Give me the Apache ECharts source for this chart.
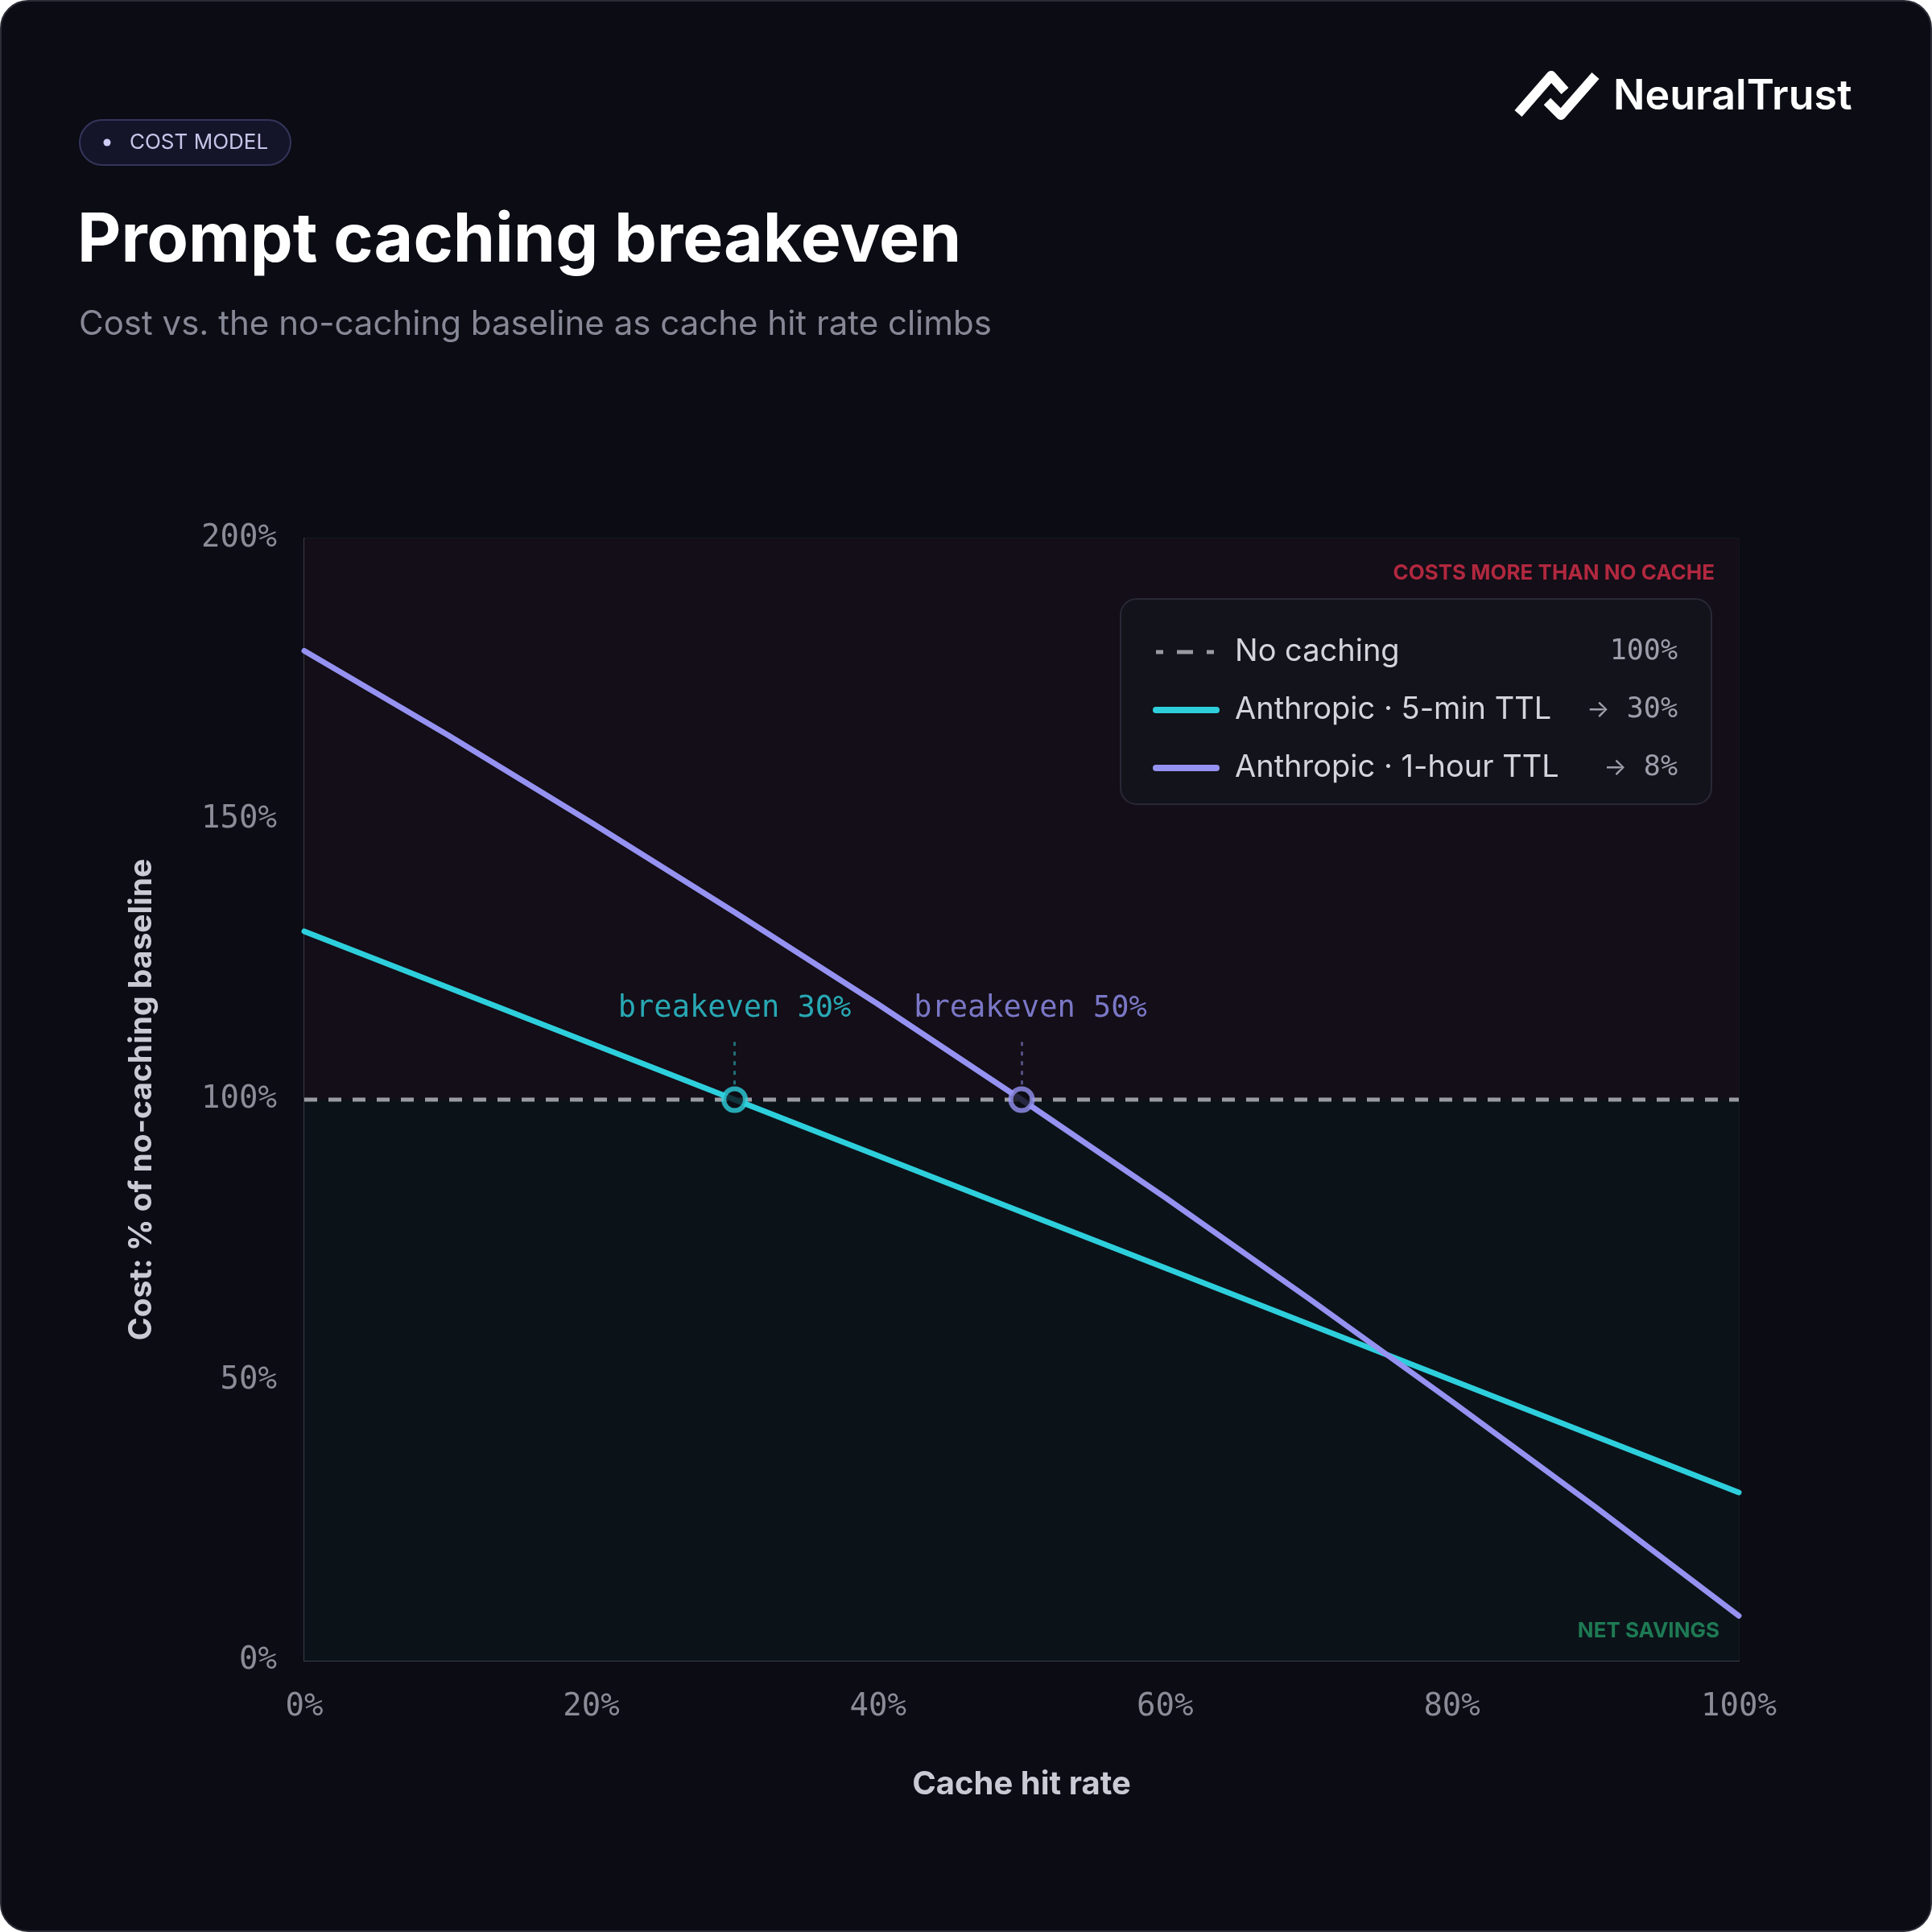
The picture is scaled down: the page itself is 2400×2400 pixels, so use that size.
<!DOCTYPE html>
<html>
<head>
<meta charset="utf-8">
<script src="https://cdn.jsdelivr.net/npm/echarts@6/dist/echarts.min.js"></script>
<style>
  html, body { margin: 0; padding: 0; background: #ffffff; }
  #main { width: 2400px; height: 2400px; }
</style>
</head>
<body>
<div id="main"></div>
<script>
// cache hit rate (%) on the x axis
const hitRate = [0, 10, 20, 30, 40, 50, 60, 70, 80, 90, 100];
// cost as % of the no-caching baseline
const noCaching = [100, 100, 100, 100, 100, 100, 100, 100, 100, 100, 100];
const ttl5min = [130, 120, 110, 100, 90, 80, 70, 60, 50, 40, 30];
const ttl1hour = [180, 165.0, 149.4, 133.4, 117.0, 100, 82.6, 64.6, 46.2, 27.4, 8];

const seriesNames = ['No caching', 'Anthropic · 5-min TTL', 'Anthropic · 1-hour TTL'];
const endArrows = ['', '→', '→'];
const endLabels = ['100%', '30%', '8%'];
const breakevenX = [30, 50];
const breakevenLabels = ['breakeven 30%', 'breakeven 50%'];

const CYAN = '#2ecfdc';
const PURPLE = '#9592f2';
const GREY = '#9a9aa2';
const BG = '#0b0c14';
const MONO = '"DejaVu Sans Mono", monospace';
const SANS = 'Inter, "Noto Sans", sans-serif';

const pairs = (ys) => hitRate.map((x, i) => [x, ys[i]]);

const chart = echarts.init(document.getElementById('main'));

// legend drawn as graphic, rows built from the arrays
const legendColors = [GREY, CYAN, PURPLE];
const legendRowsY = [810, 882, 954];
const legendItems = [{
  type: 'rect', z: 100,
  shape: { x: 1392, y: 744, width: 734, height: 255, r: 20 },
  style: { fill: '#12131b', stroke: '#282935', lineWidth: 2 }
}];
seriesNames.forEach((name, i) => {
  const y = legendRowsY[i];
  legendItems.push({
    type: 'line', z: 101,
    shape: i === 0 ? { x1: 1436, y1: y, x2: 1508, y2: y } : { x1: 1436, y1: y, x2: 1511, y2: y },
    style: i === 0
      ? { stroke: GREY, lineWidth: 5, lineDash: [20, 17], lineDashOffset: 11 }
      : { stroke: legendColors[i], lineWidth: 8, lineCap: 'round' }
  });
  legendItems.push({
    type: 'text', z: 101, x: 1534, y: y,
    style: { text: name, font: '400 38px ' + SANS, fill: '#d4d4dc', textVerticalAlign: 'middle' }
  });
  legendItems.push({
    type: 'text', z: 101, x: 2084, y: y,
    style: {
      text: (endArrows[i] ? '{a|' + endArrows[i] + '} ' : '') + endLabels[i],
      font: '400 35px ' + MONO, fill: '#9d9eaa', textAlign: 'right', textVerticalAlign: 'middle',
      rich: { a: { fontFamily: SANS, fontSize: 30, fill: '#9d9eaa' } }
    }
  });
});

chart.setOption({
  backgroundColor: '#ffffff',
  animation: false,
  graphic: [
    {
      type: 'rect', z: -10, silent: true,
      shape: { x: 1, y: 1, width: 2398, height: 2398, r: 34 },
      style: { fill: BG, stroke: '#2b2c35', lineWidth: 2 }
    },
    // badge
    {
      type: 'rect',
      shape: { x: 99, y: 149, width: 262, height: 56, r: 28 },
      style: { fill: '#15152a', stroke: '#34355a', lineWidth: 2 }
    },
    { type: 'circle', shape: { cx: 133, cy: 177, r: 4.5 }, style: { fill: '#cfcdf5' } },
    {
      type: 'text', x: 161, y: 177,
      style: { text: 'COST MODEL', font: '400 26px ' + SANS, fill: '#c6c5e8', textVerticalAlign: 'middle' }
    },
    // title + subtitle
    {
      type: 'text', x: 96, y: 300,
      style: { text: 'Prompt caching breakeven', font: '700 84px ' + SANS, fill: '#ffffff', textVerticalAlign: 'middle' }
    },
    {
      type: 'text', x: 98, y: 403,
      style: { text: 'Cost vs. the no-caching baseline as cache hit rate climbs', font: '400 42px ' + SANS, fill: '#878896', textVerticalAlign: 'middle' }
    },
    // logo
    {
      type: 'polyline',
      shape: { points: [[1886, 141], [1927, 94], [1944, 113]] },
      style: { stroke: '#ffffff', lineWidth: 12, lineJoin: 'round', lineCap: 'butt', fill: null }
    },
    {
      type: 'polyline',
      shape: { points: [[1922, 126], [1939, 143], [1982, 94]] },
      style: { stroke: '#ffffff', lineWidth: 12, lineJoin: 'round', lineCap: 'butt', fill: null }
    },
    {
      type: 'text', x: 2004, y: 120,
      style: { text: 'NeuralTrust', font: '600 52px ' + SANS, fill: '#ffffff', textVerticalAlign: 'middle' }
    }
  ].concat(legendItems),
  grid: { left: 378, right: 240, top: 669, bottom: 337 },
  xAxis: {
    type: 'value', min: 0, max: 100, interval: 20,
    name: 'Cache hit rate', nameLocation: 'middle', nameGap: 134,
    nameTextStyle: { fontFamily: SANS, fontSize: 40, fontWeight: 700, color: '#c9cad3' },
    axisLine: { show: true, lineStyle: { color: '#3b3d48', width: 2 } },
    axisTick: { show: false },
    axisLabel: { formatter: '{value}%', fontFamily: MONO, fontSize: 39, color: '#8b8c97', margin: 38 },
    splitLine: { show: true, lineStyle: { color: 'rgba(255,255,255,0.045)', width: 2 } }
  },
  yAxis: {
    type: 'value', min: 0, max: 200, interval: 50,
    name: 'Cost: % of no-caching baseline', nameLocation: 'middle', nameGap: 182,
    nameTextStyle: { fontFamily: SANS, fontSize: 39, fontWeight: 700, color: '#c9cad3' },
    axisLine: { show: true, lineStyle: { color: '#3b3d48', width: 2 } },
    axisTick: { show: false },
    axisLabel: { formatter: '{value}%', fontFamily: MONO, fontSize: 39, color: '#8b8c97', margin: 34 },
    splitLine: { show: true, lineStyle: { color: 'rgba(255,255,255,0.05)', width: 2 } }
  },
  series: [
    {
      name: seriesNames[0], type: 'line', data: pairs(noCaching),
      symbol: 'none', z: 2,
      lineStyle: { color: GREY, width: 5, type: [16, 14] },
      markArea: {
        silent: true,
        data: [
          [
            { yAxis: 100, itemStyle: { color: '#130e17' },
              label: { show: true, position: 'insideTopRight', distance: 30, formatter: 'COSTS MORE THAN NO CACHE',
                fontFamily: SANS, fontSize: 26, fontWeight: 700, color: '#b1283f' } },
            { yAxis: 200 }
          ],
          [
            { yAxis: 0, itemStyle: { color: '#0b1319' },
              label: { show: true, position: 'insideBottomRight', distance: 24, formatter: 'NET SAVINGS',
                fontFamily: SANS, fontSize: 26, fontWeight: 700, color: '#1e7a54' } },
            { yAxis: 100 }
          ]
        ]
      }
    },
    {
      name: seriesNames[1], type: 'line', data: pairs(ttl5min),
      symbol: 'none', z: 3,
      lineStyle: { color: CYAN, width: 7, cap: 'round' }
    },
    {
      name: seriesNames[2], type: 'line', data: pairs(ttl1hour),
      symbol: 'none', z: 4,
      lineStyle: { color: PURPLE, width: 7, cap: 'round' }
    },
    {
      type: 'scatter', z: 5,
      data: breakevenX.map((x, i) => ({
        value: [x, 100],
        itemStyle: { color: BG, borderColor: i === 0 ? CYAN : PURPLE, borderWidth: 6 },
        label: {
          show: true, position: 'inside', offset: [i === 0 ? 0 : 11, -113], formatter: breakevenLabels[i],
          fontFamily: MONO, fontSize: 37, color: i === 0 ? CYAN : PURPLE
        }
      })),
      symbolSize: 27,
      markLine: {
        silent: true, symbol: 'none', label: { show: false },
        data: breakevenX.map((x, i) => [
          { coord: [x, 102.7], lineStyle: { color: i === 0 ? 'rgba(46,207,220,0.5)' : 'rgba(149,146,242,0.5)', width: 3, type: [5, 7] } },
          { coord: [x, 111.3] }
        ])
      }
    }
  ]
});
</script>
</body>
</html>
